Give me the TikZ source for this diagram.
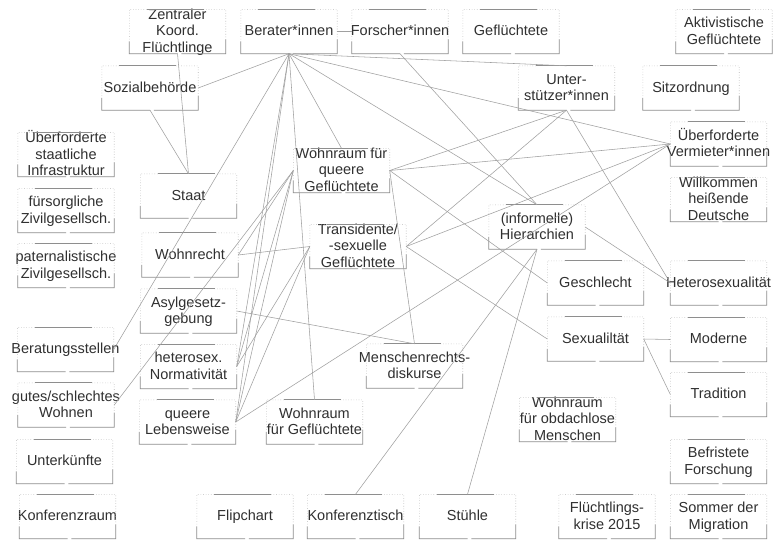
\documentclass[tikz,border=0pt]{standalone}
\usepackage{fontspec}
\setmainfont{Liberation Sans}
\usetikzlibrary{calc}
\definecolor{txtc}{HTML}{303030}
\definecolor{edgec}{HTML}{A0A0A0}
\definecolor{boxc}{HTML}{8E8E8E}
\definecolor{dotc}{HTML}{B4B4B4}
\tikzset{
  qb/.style={draw=none, inner sep=0pt, minimum width=96pt, minimum height=44pt,
    text=txtc, font=\fontsize{14.5}{16.5}\selectfont},
  dotl/.style={dotc, line width=0.6pt, dash pattern=on 0.6pt off 2pt},
  soll/.style={boxc, line width=0.8pt},
  edge/.style={edgec, line width=0.55pt}
}
\newcommand\qbox[3]{%
  \node[qb] (#1) at (#2) {\clap{\smash{\raisebox{-4.6pt}{\begin{tabular}{@{}c@{}}#3\end{tabular}}}}};
  \draw[dotl] ($(#1.north west)!0.18!(#1.north east)$) -- (#1.north west) -- ($(#1.north west)!0.72!(#1.south west)$);
  \draw[dotl] ($(#1.north west)!0.77!(#1.north east)$) -- (#1.north east) -- ($(#1.south east)!0.32!(#1.north east)$);
  \draw[soll] ($(#1.north west)!0.18!(#1.north east)$) -- ($(#1.north west)!0.77!(#1.north east)$);
  \draw[soll] ($(#1.north west)!0.72!(#1.south west)$) -- (#1.south west) -- ($(#1.south west)!0.5!(#1.south east)$);
  \draw[soll] ($(#1.south west)!0.54!(#1.south east)$) -- (#1.south east) -- ($(#1.south east)!0.32!(#1.north east)$);
}
\begin{document}
\begin{tikzpicture}[x=1pt,y=-1pt]
\fill[white] (0,0) rectangle (773,541);
\useasboundingbox (0,0) rectangle (773,541);
% row 1
\qbox{zentral}{177.5,31.5}{Zentraler\\Koord.\\Flüchtlinge}
\qbox{berater}{289,31.5}{Berater*innen}
\qbox{forscher}{400,31.5}{Forscher*innen}
\qbox{gefl}{511,31.5}{Geflüchtete}
\qbox{aktiv}{724,31.5}{Aktivistische\\Geflüchtete}
% row 2
\qbox{sozial}{150,88}{Sozialbehörde}
\qbox{unterst}{566.5,88}{Unter-\\stützer*innen}
\qbox{sitz}{691,88}{Sitzordnung}
% left column
\qbox{ueberstaat}{66,154.5}{Überforderte\\staatliche\\Infrastruktur}
\qbox{fuersorg}{66,210.5}{fürsorgliche\\Zivilgesellsch.}
\qbox{paternal}{66,265.5}{paternalistische\\Zivilgesellsch.}
\qbox{beratung}{65.5,349.5}{Beratungsstellen}
\qbox{gutes}{66,405}{gutes/schlechtes\\Wohnen}
\qbox{unterk}{64.5,461.5}{Unterkünfte}
\qbox{konfraum}{67.5,516.5}{Konferenzraum}
% second column
\qbox{staat}{188.5,196}{Staat}
\qbox{wohnrecht}{190,255}{Wohnrecht}
\qbox{asyl}{188.5,311}{Asylgesetz-\\gebung}
\qbox{heteronorm}{188.5,366.5}{heterosex.\\Normativität}
\qbox{queerleb}{187.5,422}{queere\\Lebensweise}
% middle
\qbox{wohnqueer}{341.5,170.5}{Wohnraum für\\queere\\Geflüchtete}
\qbox{trans}{358,246.5}{Transidente/\\-sexuelle\\Geflüchtete}
\qbox{menschen}{414.5,366}{Menschenrechts-\\diskurse}
\qbox{wohngefl}{314.5,422}{Wohnraum\\für Geflüchtete}
\qbox{hier}{537,227}{(informelle)\\Hierarchien}
\qbox{obdach}{567.5,419.5}{Wohnraum\\für obdachlose\\Menschen}
\qbox{geschlecht}{595.5,283}{Geschlecht}
\qbox{sexual}{595.5,339}{Sexualiltät}
% right column
\qbox{vermieter}{718.5,144}{Überforderte\\Vermieter*innen}
\qbox{willkommen}{718.5,199.5}{Willkommen\\heißende\\Deutsche}
\qbox{heterosex}{718.5,283}{Heterosexualität}
\qbox{moderne}{718.5,339.5}{Moderne}
\qbox{tradition}{718.5,394.5}{Tradition}
\qbox{befrist}{718.5,461.5}{Befristete\\Forschung}
% bottom row
\qbox{flipchart}{245,516.5}{Flipchart}
\qbox{konftisch}{355.5,516.5}{Konferenztisch}
\qbox{stuehle}{467.5,516.5}{Stühle}
\qbox{krise}{607,516.5}{Flüchtlings-\\krise 2015}
\qbox{sommer}{718.5,516.5}{Sommer der\\Migration}
% connectors
\draw[edge] (berater.east) -- (forscher.west);
\draw[edge] (berater.south) -- (sozial.east);
\draw[edge] (berater.south) -- (beratung.east);
\draw[edge] (berater.south) -- (heteronorm.east);
\draw[edge] (berater.south) -- (queerleb.east);
\draw[edge] (berater.south) -- (wohngefl.north);
\draw[edge] (berater.south) -- (wohnqueer.north);
\draw[edge] (berater.south) -- (vermieter.west);
\draw[edge] (berater.south) -- (hier.north);
\draw[edge] (berater.south) -- (unterst.north);
\draw[edge] (forscher.south) -- (hier.north);
\draw[edge] (zentral.south) -- (staat.north);
\draw[edge] (sozial.south) -- (staat.north);
\draw[edge] (wohnqueer.west) -- (wohnrecht.east);
\draw[edge] (wohnqueer.west) -- (gutes.east);
\draw[edge] (wohnqueer.west) -- (heteronorm.east);
\draw[edge] (wohnqueer.west) -- (queerleb.east);
\draw[edge] (wohnqueer.east) -- (unterst.south);
\draw[edge] (wohnqueer.east) -- (vermieter.west);
\draw[edge] (wohnqueer.east) -- (geschlecht.west);
\draw[edge] (wohnqueer.east) -- (menschen.north);
\draw[edge] (trans.west) -- (wohnrecht.east);
\draw[edge] (trans.west) -- (heteronorm.east);
\draw[edge] (trans.west) -- (queerleb.east);
\draw[edge] (trans.east) -- (unterst.south);
\draw[edge] (trans.east) -- (vermieter.west);
\draw[edge] (trans.east) -- (sexual.west);
\draw[edge] (asyl.east) -- (menschen.north);
\draw[edge] (queerleb.east) -- (vermieter.west);
\draw[edge] (hier.south) -- (konftisch.north);
\draw[edge] (hier.south) -- (stuehle.north);
\draw[edge] (hier.east) -- (heterosex.west);
\draw[edge] (unterst.south) -- (heterosex.west);
\draw[edge] (sexual.east) -- (moderne.west);
\draw[edge] (sexual.east) -- (tradition.west);
\end{tikzpicture}
\end{document}
